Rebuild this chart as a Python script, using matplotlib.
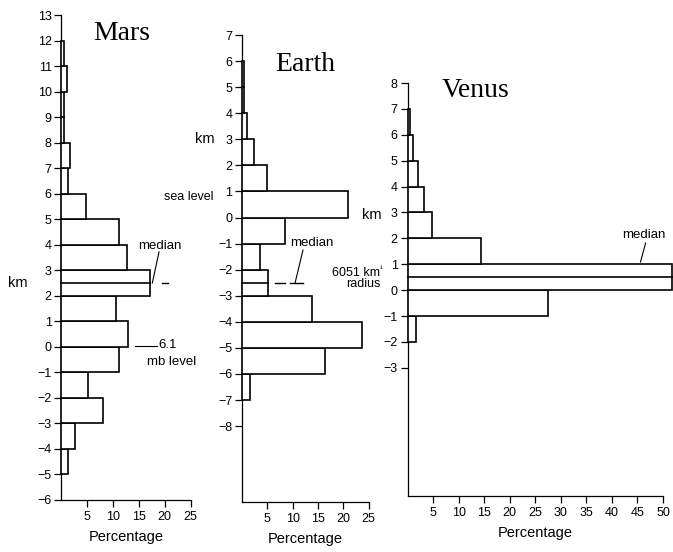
import matplotlib
matplotlib.use("Agg")
import matplotlib.pyplot as plt

plt.rcParams['font.family'] = ['Liberation Sans', 'DejaVu Sans']
plt.rcParams['axes.unicode_minus'] = True

# ---------------- data ----------------
mars_edges = [-5, -4, -3, -2, -1, 0, 1, 2, 3, 4, 5, 6, 7, 8, 9, 10, 11]
mars_pct = [1.3, 2.6, 8.0, 5.1, 11.2, 12.8, 10.6, 17.2, 12.7, 11.2, 4.8, 1.3, 1.65, 0.4, 0.4, 1.0, 0.4]
mars_median = 2.5
mars_yticks = list(range(-6, 14))
mars_ylim = (-6, 13)

earth_edges = [-7, -6, -5, -4, -3, -2, -1, 0, 1, 2, 3, 4, 5]
earth_pct = [1.6, 16.4, 23.7, 13.9, 5.1, 3.6, 8.4, 20.9, 5.0, 2.4, 1.05, 0.45, 0.3]
earth_median = -2.5
earth_yticks = list(range(-8, 8))
earth_ylim = (-10.9, 7)

venus_edges = [-2, -1, 0, 1, 2, 3, 4, 5, 6]
venus_pct = [1.6, 27.5, 51.8, 14.4, 4.7, 3.3, 2.1, 1.0, 0.5]
venus_median = 0.5
venus_yticks = list(range(-3, 9))
venus_ylim = (-7.94, 8)

pct_ticks_25 = [5, 10, 15, 20, 25]
pct_ticks_50 = [5, 10, 15, 20, 25, 30, 35, 40, 45, 50]

W, H = 673, 552
fig = plt.figure(figsize=(W / 100, H / 100), dpi=100)


def px_axes(left, right, top, bottom):
    return fig.add_axes([left / W, 1 - bottom / H, (right - left) / W, (bottom - top) / H])


def style(ax, xmax, xticks, yticks, ylim):
    ax.set_xlim(0, xmax)
    ax.set_ylim(*ylim)
    for s in ('top', 'right'):
        ax.spines[s].set_visible(False)
    for s in ('left', 'bottom'):
        ax.spines[s].set_linewidth(0.9)
    ax.set_xticks(xticks)
    ax.set_yticks(yticks)
    ax.set_yticklabels([str(v).replace('-', '\u2212') for v in yticks])
    ax.tick_params(axis='both', direction='out', length=5, width=0.9, labelsize=9)
    ax.tick_params(axis='y', pad=2)
    ax.tick_params(axis='x', pad=3)
    ax.set_xlabel('Percentage', fontsize=10.5, labelpad=5)


def bars(ax, edges, pct, median, med_pct):
    ax.barh(edges, pct, height=1.0, align='edge', color='white',
            edgecolor='black', linewidth=1.2, clip_on=False, zorder=3)
    ax.plot([0, med_pct], [median, median], color='black', lw=1.2,
            clip_on=False, zorder=4)


def med_value(edges, pct, median):
    for e, p in zip(edges, pct):
        if e <= median < e + 1:
            return p
    return 0


# ---------------- Mars ----------------
ax1 = px_axes(61.5, 190.5, 15, 500)
style(ax1, 25, pct_ticks_25, mars_yticks, mars_ylim)
bars(ax1, mars_edges, mars_pct, mars_median, med_value(mars_edges, mars_pct, mars_median))
ax1.plot([19.5, 20.7], [mars_median, mars_median], color='black', lw=1, clip_on=False)
ax1.plot([18.9, 17.6], [3.72, mars_median], color='black', lw=0.8, clip_on=False)
ax1.text(19.1, 3.95, 'median', fontsize=9.5, ha='center', va='center')
ax1.plot([14.3, 18.5], [0.05, 0.05], color='black', lw=0.8, clip_on=False)
ax1.text(18.7, 0.07, '6.1', fontsize=9.5, ha='left', va='center')
ax1.text(16.6, -0.6, 'mb level', fontsize=9.5, ha='left', va='center')
ax1.text(-6.5, 2.5, 'km', fontsize=10.5, ha='right', va='center', clip_on=False)

# ---------------- Earth ----------------
ax2 = px_axes(242, 368.5, 35, 501.7)
style(ax2, 25, pct_ticks_25, earth_yticks, earth_ylim)
bars(ax2, earth_edges, earth_pct, earth_median, med_value(earth_edges, earth_pct, earth_median))
ax2.plot([6.5, 8.5], [earth_median, earth_median], color='black', lw=1, clip_on=False)
ax2.plot([9.5, 12.0], [earth_median, earth_median], color='black', lw=1, clip_on=False)
ax2.plot([12.05, 10.5], [-1.25, earth_median], color='black', lw=0.8, clip_on=False)
ax2.text(13.8, -0.98, 'median', fontsize=9.5, ha='center', va='center')
ax2.text(-5.6, 0.8, 'sea level', fontsize=9, ha='right', va='center')
ax2.text(-5.5, 3.0, 'km', fontsize=10.5, ha='right', va='center')
ax2.text(17.8, -2.12, '6051 km', fontsize=9, ha='left', va='center')
ax2.text(27.2, -1.98, '\u00b9', fontsize=6, ha='left', va='center')
ax2.text(20.5, -2.55, 'radius', fontsize=9, ha='left', va='center')

# ---------------- Venus ----------------
ax3 = px_axes(407.5, 663, 83, 495.8)
style(ax3, 50, pct_ticks_50, venus_yticks, venus_ylim)
bars(ax3, venus_edges, venus_pct, venus_median, med_value(venus_edges, venus_pct, venus_median))
ax3.plot([46.6, 45.6], [1.82, 1.09], color='black', lw=0.8, clip_on=False)
ax3.text(46.2, 2.13, 'median', fontsize=9.5, ha='center', va='center')
ax3.text(-5.0, 2.9, 'km', fontsize=10.5, ha='right', va='center')

# ---------------- titles ----------------
serif = ['Liberation Serif', 'DejaVu Serif']
fig.text(93 / W, 1 - 40 / H, 'Mars', family=serif, fontsize=20, ha='left', va='baseline')
fig.text(275 / W, 1 - 71 / H, 'Earth', family=serif, fontsize=20, ha='left', va='baseline')
fig.text(442 / W, 1 - 97 / H, 'Venus', family=serif, fontsize=20, ha='left', va='baseline')

fig.savefig('out.png', dpi=100)
